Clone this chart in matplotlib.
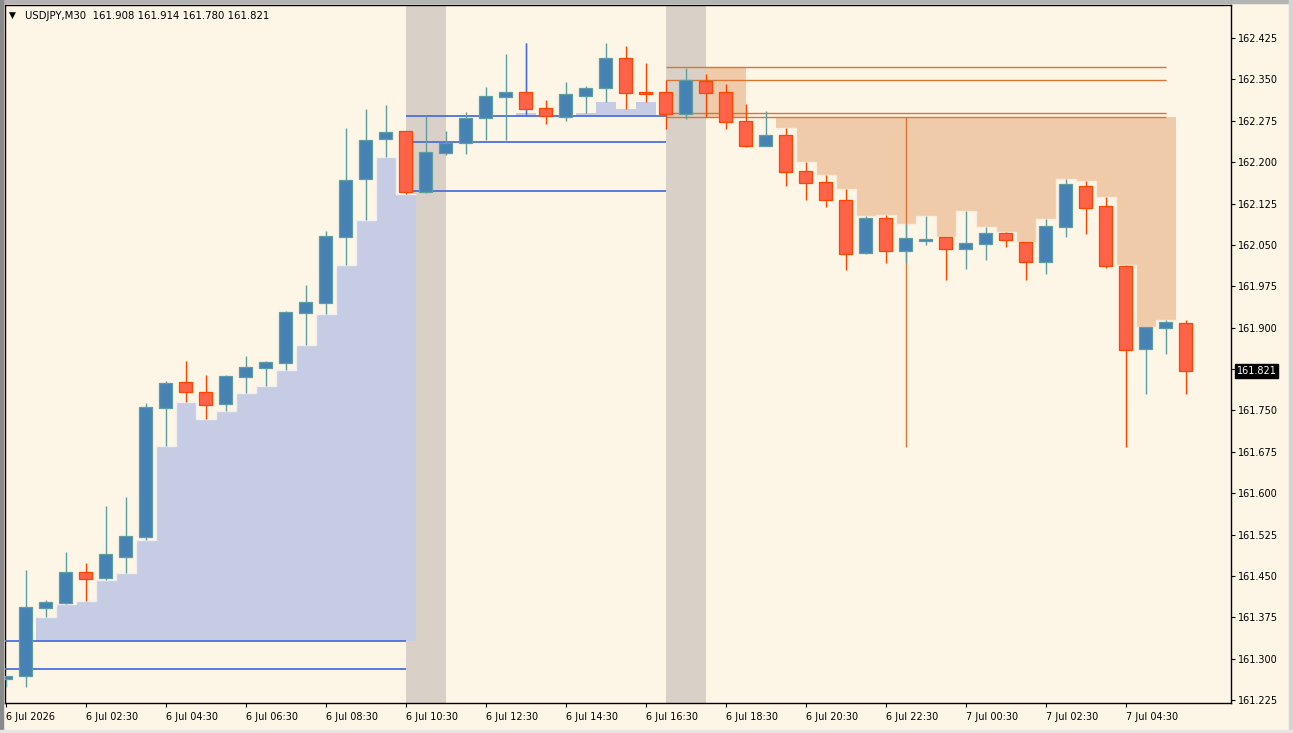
import matplotlib.pyplot as plt
import numpy as np
from matplotlib.patches import Rectangle
from matplotlib.transforms import blended_transform_factory

# USDJPY M30 candles, 6 Jul 00:30 -> 7 Jul 06:00
opens = [161.2625, 161.2690, 161.3918, 161.4008, 161.4570, 161.4456, 161.4848, 161.5210, 161.7538, 161.8014,
         161.7833, 161.7616, 161.8110, 161.8263, 161.8364, 161.9260, 161.9446, 162.0648, 162.1689, 162.2414,
         162.2570, 162.1464, 162.2160, 162.2341, 162.2794, 162.3186, 162.3271, 162.2976, 162.2823, 162.3204,
         162.3338, 162.3882, 162.3271, 162.3271, 162.2867, 162.3476, 162.3266, 162.2746, 162.2298, 162.2497,
         162.1839, 162.1634, 162.1319, 162.0347, 162.0982, 162.0394, 162.0576, 162.0643, 162.0420, 162.0510,
         162.0710, 162.0547, 162.0190, 162.0824, 162.1567, 162.1205, 162.0123, 161.8607, 161.8988, 161.908]
highs = [161.2685, 161.4606, 161.4063, 161.4933, 161.4728, 161.5767, 161.5924, 161.7628, 161.8027, 161.8395,
         161.8147, 161.8147, 161.8486, 161.8395, 161.9301, 161.9773, 162.0752, 162.2624, 162.2963, 162.3036,
         162.2570, 162.2836, 162.2564, 162.2903, 162.3367, 162.3960, 162.4165, 162.3126, 162.3447, 162.3380,
         162.4165, 162.4105, 162.3791, 162.3489, 162.3712, 162.3592, 162.3416, 162.3059, 162.2927, 162.2624,
         162.1997, 162.1761, 162.1518, 162.1023, 162.1042, 162.0873, 162.1023, 162.0643, 162.1114, 162.0819,
         162.0728, 162.0547, 162.0975, 162.1700, 162.1658, 162.1362, 162.0135, 161.9006, 161.9138, 161.914]
lows = [161.2491, 161.2480, 161.3749, 161.3990, 161.4039, 161.4425, 161.4547, 161.5150, 161.6854, 161.7646,
        161.7349, 161.7483, 161.7810, 161.7942, 161.8232, 161.8685, 161.9252, 162.0135, 162.0951, 162.2087,
        162.1422, 162.1446, 162.2124, 162.2147, 162.2401, 162.2401, 162.2890, 162.2691, 162.2751, 162.2896,
        162.3095, 162.2963, 162.3095, 162.2600, 162.2776, 162.2812, 162.2600, 162.2269, 162.2287, 162.1562,
        162.1313, 162.1192, 162.0045, 162.0329, 162.0177, 162.0166, 162.0498, 161.9863, 162.0063, 162.0226,
        162.0467, 161.9863, 161.9978, 162.0637, 162.0697, 162.0086, 161.6836, 161.7797, 161.8522, 161.780]
closes = [161.2685, 161.3941, 161.4026, 161.4570, 161.4438, 161.4891, 161.5228, 161.7567, 161.7991, 161.7833,
          161.7592, 161.8129, 161.8281, 161.8382, 161.9283, 161.9464, 162.0661, 162.1681, 162.2406, 162.2546,
          162.1464, 162.2178, 162.2352, 162.2794, 162.3199, 162.3271, 162.2958, 162.2842, 162.3229, 162.3338,
          162.3882, 162.3248, 162.3229, 162.2867, 162.3489, 162.3258, 162.2733, 162.2298, 162.2497, 162.1826,
          162.1622, 162.1308, 162.0329, 162.0982, 162.0394, 162.0619, 162.0601, 162.0420, 162.0529, 162.0710,
          162.0583, 162.0190, 162.0842, 162.1598, 162.1168, 162.0123, 161.8589, 161.9006, 161.9097, 161.821]

time_labels = ['6 Jul 2026', '6 Jul 02:30', '6 Jul 04:30', '6 Jul 06:30', '6 Jul 08:30', '6 Jul 10:30',
               '6 Jul 12:30', '6 Jul 14:30', '6 Jul 16:30', '6 Jul 18:30', '6 Jul 20:30', '6 Jul 22:30',
               '7 Jul 00:30', '7 Jul 02:30', '7 Jul 04:30']
price_ticks = [161.225, 161.300, 161.375, 161.450, 161.525, 161.600, 161.675, 161.750,
               161.825, 161.900, 161.975, 162.050, 162.125, 162.200, 162.275, 162.350, 162.425]

# indicator levels
zone1_levels = [161.3319, 161.2803]
zone2_levels = [162.2836, 162.2359, 162.1477]
sell_levels = [162.3719, 162.3494, 162.2885, 162.2812]
last_price = 161.821

BG = '#FDF5E6'
BULL, BULL_EDGE = '#4682B4', '#5F9EA0'
BEAR, BEAR_EDGE = '#FF6347', '#FF4500'
BLUE_LINE = '#4C6FE0'
ORANGE_LINE = '#DB7533'
BLUE_AREA = '#C5CCE4'
ORANGE_AREA = '#EFCBA9'
BAND = '#D9D1C8'

W, H = 1293, 733
fig = plt.figure(figsize=(W / 100, H / 100), dpi=100, facecolor=BG)
ax = fig.add_axes([4.5 / W, (H - 703.3) / H, (1231 - 4.5) / W, (703.3 - 4.7) / H])
ax.set_facecolor(BG)

n = len(opens)
x = np.arange(n)
o, h, l, c = map(np.array, (opens, highs, lows, closes))
bull = c >= o

# session bands
ax.axvspan(20, 22, color=BAND, lw=0, zorder=1)
ax.axvspan(33, 35, color=BAND, lw=0, zorder=1)

# sell box at top
ax.fill_between([33, 37], sell_levels[3], sell_levels[0], color=ORANGE_AREA, lw=0, zorder=0.8)

# buy zone 1 area (base -> lows)
e1 = np.arange(1.5, 21.0)
ax.stairs(l[2:21], e1, baseline=zone1_levels[0], fill=True, color=BLUE_AREA, lw=0, zorder=2)
ax.stairs(l[2:21], e1, baseline=None, color='#F2F0EE', lw=1.0, zorder=2.1)

# buy zone 2 area
e2 = np.arange(20.5, 33.0)
v2 = np.maximum(l[21:33], zone2_levels[0])
ax.stairs(v2, e2, baseline=zone2_levels[0], fill=True, color=BLUE_AREA, lw=0, zorder=2)

# sell zone area (top level -> highs)
e3 = np.arange(38.5, 59.0)
v3 = np.minimum(h[39:59], sell_levels[3])
ax.stairs(v3, e3, baseline=sell_levels[3], fill=True, color=ORANGE_AREA, lw=0, zorder=2)
ax.stairs(v3, e3, baseline=None, color='#F9EDE0', lw=1.0, zorder=2.1)

# level lines
ax.hlines(zone1_levels, -0.5, 20, color=BLUE_LINE, lw=1.3, zorder=3)
ax.hlines(zone2_levels, 20, 33, color=BLUE_LINE, lw=1.3, zorder=3)
ax.hlines(sell_levels, 33, 58, color=ORANGE_LINE, lw=1.0, zorder=3)
ax.vlines(45, lows[56], sell_levels[3], color=ORANGE_LINE, lw=1.0, zorder=3.5)
ax.vlines(26, zone2_levels[0], highs[30], color=BLUE_LINE, lw=1.0, zorder=4.5)

# candles
ax.vlines(x, l, h, colors=np.where(bull, BULL_EDGE, BEAR_EDGE), lw=1.0, zorder=4)
body_lo = np.minimum(o, c)
body_h = np.maximum(np.abs(c - o), 0.0015)
ax.bar(x, body_h, width=0.667, bottom=body_lo, color=np.where(bull, BULL, BEAR),
       edgecolor=np.where(bull, BULL_EDGE, BEAR_EDGE), lw=0.9, zorder=5)

ax.set_xlim((4.5 - 5.7) / 20, (1231 - 5.7) / 20)
ax.set_ylim(162.425 - (703.3 - 38) / 551.67, 162.425 + (38 - 4.7) / 551.67)

# axes and ticks
ax.yaxis.tick_right()
ax.set_yticks(price_ticks)
ax.set_yticklabels(['%.3f' % p for p in price_ticks])
ax.tick_params(axis='y', length=3, width=0.8, pad=2, labelsize=7, colors='black')
ax.set_xticks(range(0, 57, 4))
ax.set_xticklabels(time_labels, ha='left')
ax.tick_params(axis='x', length=3, width=0.8, pad=3, labelsize=7, colors='black')
for sp in ax.spines.values():
    sp.set_color('black')
    sp.set_linewidth(1.0)

# last price tag
tr = blended_transform_factory(ax.transAxes, ax.transData)
ax.text(1.0045, last_price, '%.3f' % last_price, transform=tr, color='white', fontsize=7,
        va='center', ha='left', bbox=dict(boxstyle='square,pad=0.2', fc='black', ec='black'),
        clip_on=False, zorder=10)

# header
fig.text(9 / W, 1 - 15.5 / H, '\u25BC', fontsize=6.5, va='center', ha='left', color='black')
fig.text(25 / W, 1 - 16 / H, 'USDJPY,M30  161.908 161.914 161.780 161.821', fontsize=7.3,
         va='center', ha='left', color='black')

# window borders
fig.patches.append(Rectangle((0, 1 - 3 / H), 1, 3 / H, transform=fig.transFigure, color='#B4B4B4', zorder=0))
fig.patches.append(Rectangle((0, 0), 3 / W, 1, transform=fig.transFigure, color='#8A8A8A', zorder=0))
fig.patches.append(Rectangle((1 - 4 / W, 0), 4 / W, 1, transform=fig.transFigure, color='#D4D4D4', zorder=0))
fig.patches.append(Rectangle((0, 0), 1, 3 / H, transform=fig.transFigure, color='#E6E6E6', zorder=0))

fig.savefig('out.png', dpi=100, facecolor=BG)
